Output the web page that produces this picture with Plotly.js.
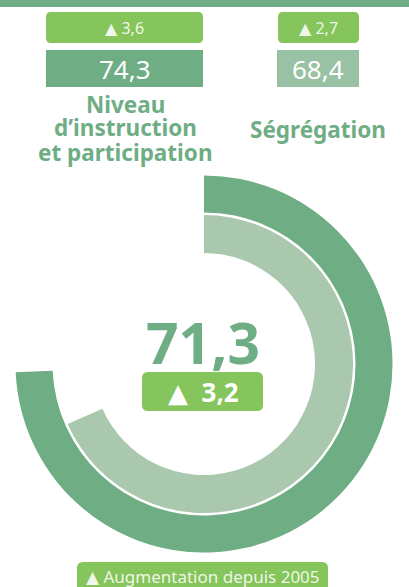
<!DOCTYPE html>
<html>
<head>
<meta charset="utf-8">
<script src="https://cdn.plot.ly/plotly-3.0.1.min.js"></script>
<style>
  html, body { margin: 0; padding: 0; background: #ffffff; }
  #chart { width: 409px; height: 587px; }
</style>
</head>
<body>
<div id="chart"></div>
<script>
// ---- data ----
const componentLabels = [['Niveau', 'd’instruction', 'et participation'], ['Ségrégation']];
const componentScores = [74.3, 68.4];
const componentChanges = [3.6, 2.7];
const overallScore = 71.3;
const overallChange = 3.2;
const baseYear = 2005;
const scaleMax = 100;

// ---- styling ----
const W = 409, H = 587;
const darkGreen = '#6fad84';
const lightRing = '#a9c8ae';
const lightBox = '#99c1a3';
const badgeGreen = '#85c55c';
const FONT = 'Noto Sans, Open Sans, DejaVu Sans, sans-serif';

const px = x => x / W;
const py = y => 1 - y / H;
const fmt = v => v.toFixed(1).replace('.', ',');
const tri = size => '<span style="font-family:DejaVu Sans;font-size:' + size + 'px">▲</span>';

function roundRect(x0, y0, x1, y1, r) {
  const P = (x, y) => px(x) + ',' + py(y);
  return 'M' + P(x0 + r, y0) + ' L' + P(x1 - r, y0) + ' Q' + P(x1, y0) + ' ' + P(x1, y0 + r) +
    ' L' + P(x1, y1 - r) + ' Q' + P(x1, y1) + ' ' + P(x1 - r, y1) +
    ' L' + P(x0 + r, y1) + ' Q' + P(x0, y1) + ' ' + P(x0, y1 - r) +
    ' L' + P(x0, y0 + r) + ' Q' + P(x0, y0) + ' ' + P(x0 + r, y0) + ' Z';
}

function ring(score, cx, cy, rOuter, rInner, color) {
  return {
    type: 'pie',
    values: [score, scaleMax - score],
    sort: false,
    direction: 'clockwise',
    rotation: 0,
    hole: rInner / rOuter,
    marker: { colors: [color, 'rgba(0,0,0,0)'], line: { width: 0 } },
    textinfo: 'none',
    hoverinfo: 'skip',
    showlegend: false,
    domain: {
      x: [px(cx - rOuter), px(cx + rOuter)],
      y: [py(cy + rOuter), py(cy - rOuter)]
    }
  };
}

const cx = 204, cy = 364;
const data = [
  ring(componentScores[0], cx, cy, 188.5, 151.5, darkGreen),
  ring(componentScores[1], cx, cy, 149, 111, lightRing)
];

const shapes = [
  { type: 'rect', xref: 'paper', yref: 'paper', x0: 0, x1: 1, y0: py(7), y1: 1,
    fillcolor: darkGreen, line: { width: 0 }, layer: 'below' },
  { type: 'path', xref: 'paper', yref: 'paper', path: roundRect(46, 12, 203, 43, 5),
    fillcolor: badgeGreen, line: { width: 0 } },
  { type: 'path', xref: 'paper', yref: 'paper', path: roundRect(278, 12, 359, 43, 5),
    fillcolor: badgeGreen, line: { width: 0 } },
  { type: 'rect', xref: 'paper', yref: 'paper', x0: px(46), x1: px(203), y0: py(87), y1: py(50),
    fillcolor: darkGreen, line: { width: 0 } },
  { type: 'rect', xref: 'paper', yref: 'paper', x0: px(277), x1: px(359), y0: py(87), y1: py(50),
    fillcolor: lightBox, line: { width: 0 } },
  { type: 'path', xref: 'paper', yref: 'paper', path: roundRect(142, 372, 263, 411, 6),
    fillcolor: badgeGreen, line: { width: 0 } },
  { type: 'path', xref: 'paper', yref: 'paper', path: roundRect(77, 562, 328, 598, 6),
    fillcolor: badgeGreen, line: { width: 0 } }
];

function ann(text, x, y, size, color, bold, extra) {
  return Object.assign({
    xref: 'paper', yref: 'paper', x: px(x), y: py(y),
    xanchor: 'center', yanchor: 'middle', showarrow: false, borderpad: 0,
    text: bold ? '<b>' + text + '</b>' : text,
    font: { family: FONT, size: size, color: color }
  }, extra || {});
}

const soft = 'rgba(255,255,255,0.88)';
const annotations = [
  ann(tri(16) + ' ' + fmt(componentChanges[0]), 124.5, 28, 16, soft, false),
  ann(tri(16) + ' ' + fmt(componentChanges[1]), 318.5, 28, 16, soft, false),
  ann(fmt(componentScores[0]), 124.5, 68.5, 26, '#ffffff', false),
  ann(fmt(componentScores[1]), 318, 68.5, 26, '#ffffff', false),
  ann(componentLabels[0][0], 125, 104, 22.5, darkGreen, true),
  ann(componentLabels[0][1], 125, 128, 22.5, darkGreen, true),
  ann(componentLabels[0][2], 125, 152, 22.5, darkGreen, true),
  ann(componentLabels[1][0], 318, 130, 22.5, darkGreen, true),
  ann(fmt(overallScore), 203, 342, 57, darkGreen, true),
  ann(tri(26) + '  ' + fmt(overallChange), 203, 392, 26, '#ffffff', true),
  ann(tri(17) + ' Augmentation depuis ' + baseYear, 203, 576, 17, soft, false)
];

const layout = {
  width: W, height: H,
  margin: { l: 0, r: 0, t: 0, b: 0, pad: 0 },
  paper_bgcolor: '#ffffff',
  plot_bgcolor: '#ffffff',
  showlegend: false,
  shapes: shapes,
  annotations: annotations,
  font: { family: FONT }
};

Plotly.newPlot('chart', data, layout, { displayModeBar: false, staticPlot: true });
</script>
</body>
</html>
